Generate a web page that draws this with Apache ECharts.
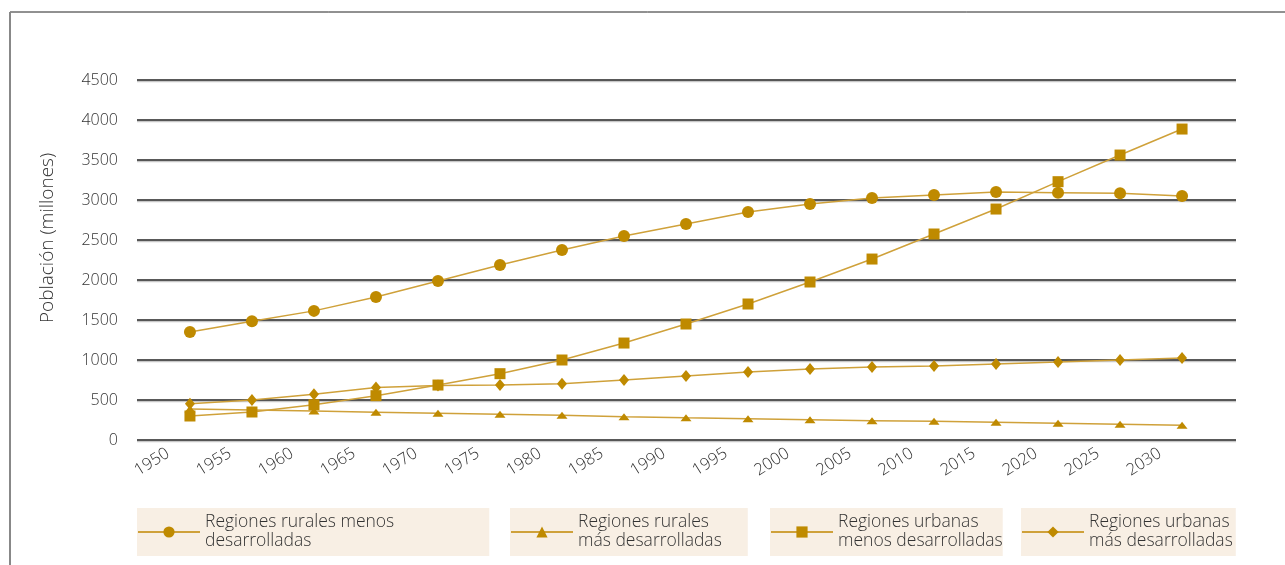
<!DOCTYPE html>
<html>
<head>
<meta charset="utf-8">
<script src="https://cdn.jsdelivr.net/npm/echarts@6/dist/echarts.min.js"></script>
<style>
  html, body { margin: 0; padding: 0; background: #fff; }
  #poblacionChart { width: 1285px; height: 565px; }
</style>
</head>
<body>
<div id="poblacionChart"></div>
<script>
// años (eje x)
var years = [1950, 1955, 1960, 1965, 1970, 1975, 1980, 1985, 1990, 1995, 2000, 2005, 2010, 2015, 2020, 2025, 2030]
var yearLabels = ['1950', '1955', '1960', '1965', '1970', '1975', '1980', '1985', '1990', '1995', '2000', '2005', '2010', '2015', '2020', '2025', '2030']
var yTicks = [0, 500, 1000, 1500, 2000, 2500, 3000, 3500, 4000, 4500]

// población en millones
var ruralMenos = [1350, 1483, 1614, 1787, 1987, 2187, 2375, 2550, 2700, 2850, 2950, 3025, 3062, 3100, 3091, 3083, 3050]
var ruralMas = [387, 375, 362, 346, 333, 321, 308, 292, 279, 267, 254, 242, 233, 221, 208, 196, 183]
var urbanaMenos = [300, 350, 441, 554, 687, 829, 1000, 1212, 1450, 1700, 1975, 2262, 2575, 2887, 3229, 3562, 3887]
var urbanaMas = [454, 500, 571, 655, 682, 687, 704, 750, 800, 850, 887, 912, 925, 950, 975, 1000, 1025]

var names = [
  'Regiones rurales menos\ndesarrolladas',
  'Regiones rurales\nmás desarrolladas',
  'Regiones urbanas\nmenos desarrolladas',
  'Regiones urbanas\nmás desarrolladas'
]

var gold = '#BF8A00'
var lineGold = '#CFA13A'
var textColor = '#333'
var fontName = 'Open Sans'

function pairs(vals) {
  return vals.map(function (v, i) { return [years[i], v] })
}

function makeSeries(name, vals, symbol, size) {
  return {
    name: name,
    type: 'line',
    xAxisIndex: 0,
    data: pairs(vals),
    symbol: symbol,
    symbolSize: size,
    showAllSymbol: true,
    itemStyle: { color: gold },
    lineStyle: { color: lineGold, width: 1.5 },
    emphasis: { disabled: true },
    animation: false
  }
}

// una leyenda por caja
function makeLegend(name, left, padRight) {
  return {
    data: [name],
    left: left,
    top: 508,
    orient: 'horizontal',
    backgroundColor: '#F8EFE4',
    padding: [2, padRight, 2, 0],
    itemWidth: 62,
    itemHeight: 14,
    selectedMode: false,
    textStyle: {
      color: textColor,
      fontFamily: fontName,
      fontWeight: 300,
      fontSize: 17.5,
      lineHeight: 19,
      padding: [6, 0, 0, 0]
    }
  }
}

var chart = echarts.init(document.getElementById('poblacionChart'))
var option = {
  backgroundColor: '#fff',
  animation: false,
  grid: { left: 137, right: 49, top: 80, bottom: 125 },
  legend: [
    makeLegend(names[0], 137, 95),
    makeLegend(names[1], 510, 26),
    makeLegend(names[2], 770, 0),
    makeLegend(names[3], 1021, 3)
  ],
  xAxis: [
    {
      // eje de datos (oculto)
      type: 'value',
      min: 1945.73,
      max: 2034.35,
      position: 'bottom',
      axisLine: { show: false },
      axisTick: { show: false },
      axisLabel: { show: false },
      splitLine: { show: false }
    },
    {
      // eje solo para las etiquetas de años
      type: 'value',
      min: 1947.5,
      max: 2036.12,
      position: 'bottom',
      offset: 0,
      axisLine: { show: false },
      axisTick: { show: false },
      splitLine: { show: false },
      axisLabel: {
        customValues: years,
        formatter: function (v) { return yearLabels[years.indexOf(v)] },
        rotate: 32,
        margin: 12,
        color: textColor,
        fontFamily: fontName,
        fontWeight: 300,
        fontSize: 16.5
      }
    }
  ],
  yAxis: {
    type: 'value',
    min: yTicks[0],
    max: yTicks[yTicks.length - 1],
    interval: 500,
    name: 'Población (millones)',
    nameLocation: 'middle',
    nameGap: 80,
    nameTextStyle: {
      color: textColor,
      fontFamily: fontName,
      fontWeight: 300,
      fontSize: 19,
      padding: [0, 0, 0, 44]
    },
    axisLine: { show: false },
    axisTick: { show: false },
    axisLabel: {
      margin: 19,
      color: textColor,
      fontFamily: fontName,
      fontWeight: 300,
      fontSize: 16,
      formatter: function (v) { return String(v) }
    },
    splitLine: {
      lineStyle: { color: '#222', width: 1.5, shadowColor: '#c8c8c8', shadowOffsetY: 1.5, shadowBlur: 0 }
    }
  },
  series: [
    makeSeries(names[0], ruralMenos, 'circle', 12),
    makeSeries(names[1], ruralMas, 'triangle', [11, 7]),
    makeSeries(names[2], urbanaMenos, 'rect', 11),
    makeSeries(names[3], urbanaMas, 'diamond', [10, 12])
  ],
  // marco del grafico
  graphic: [
    { type: 'line', shape: { x1: 10, y1: 12, x2: 1285, y2: 12 }, style: { stroke: '#222', lineWidth: 1 } },
    { type: 'line', shape: { x1: 10, y1: 12, x2: 10, y2: 565 }, style: { stroke: '#888', lineWidth: 2 } }
  ]
}
chart.setOption(option, true)
</script>
</body>
</html>
